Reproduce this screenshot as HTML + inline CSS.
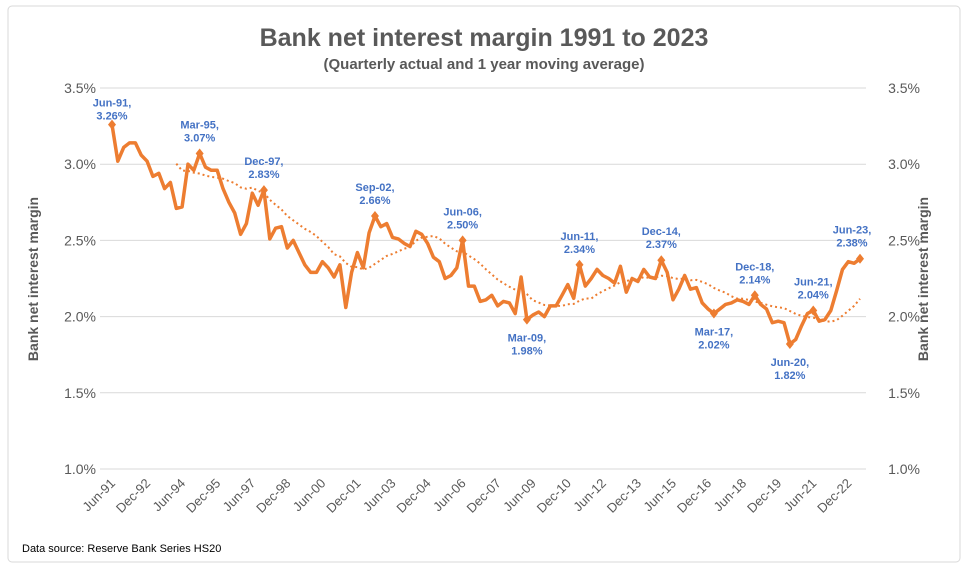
<!DOCTYPE html>
<html><head><meta charset="utf-8">
<style>
body{margin:0;background:#fff;font-family:"Liberation Sans",sans-serif;}
svg text{font-family:"Liberation Sans",sans-serif;}
</style></head>
<body>
<svg id="chart" width="968" height="573" viewBox="0 0 968 573">
<rect x="8" y="6" width="952" height="556" fill="#fff" stroke="#d9d9d9" rx="4"/>
<text x="484" y="46" text-anchor="middle" font-size="25" font-weight="bold" fill="#595959">Bank net interest margin 1991 to 2023</text>
<text x="484" y="69" text-anchor="middle" font-size="15" font-weight="bold" fill="#595959">(Quarterly actual and 1 year moving average)</text>
<text transform="translate(38,279) rotate(-90)" text-anchor="middle" font-size="14" font-weight="bold" fill="#595959">Bank net interest margin</text>
<text transform="translate(928,279) rotate(-90)" text-anchor="middle" font-size="14" font-weight="bold" fill="#595959">Bank net interest margin</text>
<text x="22" y="552" font-size="11" fill="#000">Data source:  Reserve Bank Series HS20</text>
<g id="grid"></g><g id="xlabels"></g><g id="series"></g><g id="annots"></g>
</svg>
<script>
const yTicks=[1.0,1.5,2.0,2.5,3.0,3.5];
const xTickLabels=["Jun-91","Dec-92","Jun-94","Dec-95","Jun-97","Dec-98","Jun-00","Dec-01","Jun-03","Dec-04","Jun-06","Dec-07","Jun-09","Dec-10","Jun-12","Dec-13","Jun-15","Dec-16","Jun-18","Dec-19","Jun-21","Dec-22"];
const nimValues=[3.26,3.02,3.11,3.14,3.14,3.06,3.02,2.92,2.94,2.84,2.88,2.71,2.72,3.00,2.96,3.07,2.98,2.96,2.96,2.84,2.75,2.68,2.54,2.61,2.81,2.73,2.83,2.51,2.58,2.59,2.45,2.50,2.42,2.34,2.29,2.29,2.36,2.32,2.26,2.34,2.06,2.29,2.42,2.32,2.55,2.66,2.59,2.61,2.52,2.51,2.48,2.46,2.56,2.54,2.48,2.39,2.36,2.25,2.27,2.32,2.50,2.20,2.20,2.10,2.11,2.14,2.07,2.10,2.09,2.02,2.26,1.98,2.01,2.03,2.00,2.07,2.07,2.14,2.21,2.12,2.34,2.20,2.25,2.31,2.27,2.25,2.22,2.33,2.16,2.25,2.23,2.31,2.26,2.25,2.37,2.29,2.11,2.18,2.27,2.18,2.19,2.09,2.05,2.02,2.05,2.08,2.09,2.11,2.10,2.08,2.14,2.08,2.05,1.96,1.97,1.96,1.82,1.85,1.94,2.02,2.04,1.97,1.98,2.04,2.17,2.31,2.36,2.35,2.38];
const annotIdx=[0,15,26,45,60,71,80,94,103,110,116,120,128];
const annotText=[["Jun-91,","3.26%"],["Mar-95,","3.07%"],["Dec-97,","2.83%"],["Sep-02,","2.66%"],["Jun-06,","2.50%"],["Mar-09,","1.98%"],["Jun-11,","2.34%"],["Dec-14,","2.37%"],["Mar-17,","2.02%"],["Dec-18,","2.14%"],["Jun-20,","1.82%"],["Jun-21,","2.04%"],["Jun-23,","2.38%"]];
const annotBelow=[false,false,false,false,false,true,false,false,true,false,true,false,false];
const maPeriod=12;
const NS="http://www.w3.org/2000/svg";
const X0=112,X1=860,Y0=469,Y1=88,N=nimValues.length;
const xs=i=>X0+(X1-X0)*i/(N-1);
const ys=v=>Y0-(v-1.0)*(Y0-Y1)/2.5;
function mk(t,a,p){const e=document.createElementNS(NS,t);for(const k in a)e.setAttribute(k,a[k]);p.appendChild(e);return e;}
const grid=document.getElementById('grid');
yTicks.forEach(v=>{
 const l=mk('line',{x1:100,x2:866,y1:ys(v),y2:ys(v),stroke:'#d9d9d9','stroke-width':1},grid);
 
 
 const t1=mk('text',{x:96,y:ys(v)+5,'text-anchor':'end','font-size':14,fill:'#595959'},grid);t1.textContent=v.toFixed(1)+'%';
 
 
 const t2=mk('text',{x:920,y:ys(v)+5,'text-anchor':'end','font-size':14,fill:'#595959'},grid);t2.textContent=v.toFixed(1)+'%';
 
 
});
const xl=document.getElementById('xlabels');
xTickLabels.forEach((s,k)=>{
 const x=xs(k*6),y=484;
 const t=mk('text',{x:x+4,y:y,'text-anchor':'end','font-size':13,fill:'#595959',transform:`rotate(-45 ${x+4} ${y})`},xl);t.textContent=s;
 
 
});
const ser=document.getElementById('series');
let ma=[];for(let i=maPeriod-1;i<N;i++){let s=0;for(let j=i-maPeriod+1;j<=i;j++)s+=nimValues[j];ma.push([i,s/maPeriod]);}
const mp=mk('path',{d:ma.map((p,k)=>(k?'L':'M')+xs(p[0]).toFixed(1)+','+ys(p[1]).toFixed(1)).join(''),fill:'none',stroke:'#ED7D31','stroke-width':2,'stroke-dasharray':'2 3'},ser);


const lp=mk('path',{d:nimValues.map((v,i)=>(i?'L':'M')+xs(i).toFixed(1)+','+ys(v).toFixed(1)).join(''),fill:'none',stroke:'#ED7D31','stroke-width':3.5,'stroke-linejoin':'round'},ser);


const an=document.getElementById('annots');
annotIdx.forEach((i,k)=>{
 const x=xs(i),y=ys(nimValues[i]);
 const d=mk('path',{d:`M${x},${y-5}L${x+4},${y}L${x},${y+5}L${x-4},${y}Z`,fill:'#ED7D31'},an);
 
 
 let ty=annotBelow[k]?y+22:y-25;
 if(i===0) ty=y-18;
 let cx=x; if(i===128) cx=x-8;
 const t=mk('text',{x:cx,y:ty,'text-anchor':'middle','font-size':11,'font-weight':'bold',fill:'#4472C4'},an);
 
 
 const a=mk('tspan',{x:cx,dy:0},t);a.textContent=annotText[k][0];
 const b=mk('tspan',{x:cx,dy:13},t);b.textContent=annotText[k][1];
});
</script>
</body></html>
